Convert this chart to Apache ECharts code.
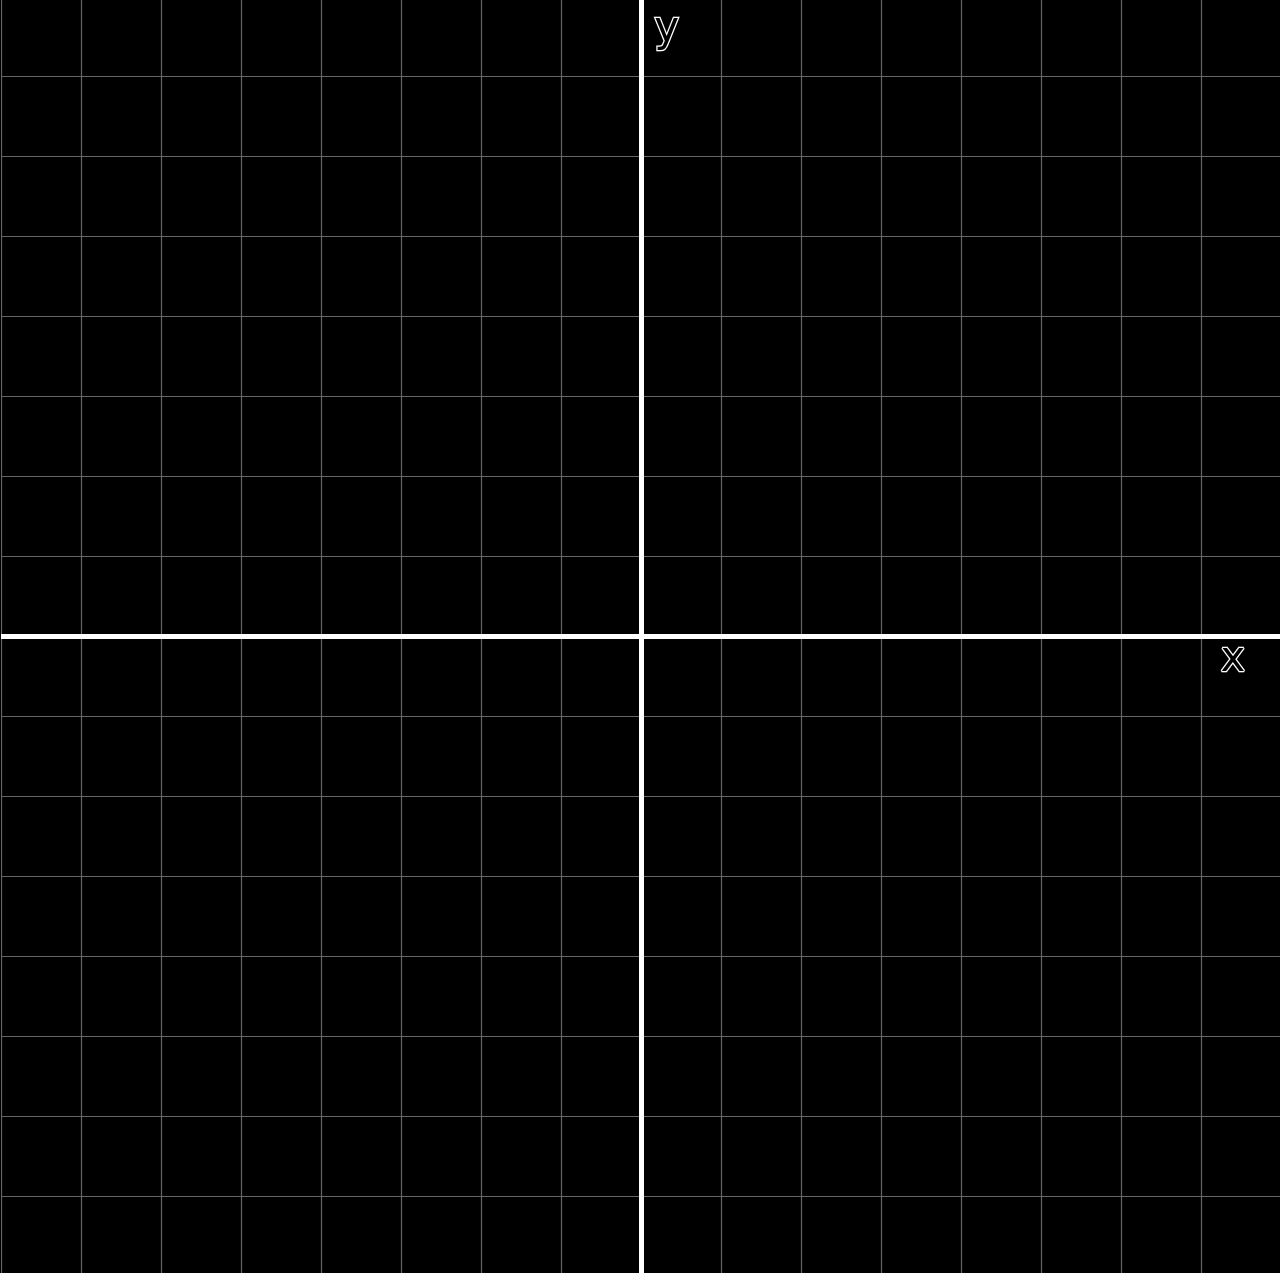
<!DOCTYPE html>
<html>
<head>
<meta charset="utf-8">
<style>
html,body{margin:0;padding:0;background:#000;overflow:hidden;width:1280px;height:1273px;}
#c{position:absolute;left:1px;top:-4px;width:1280px;height:1280px;}
</style>
<script src="https://cdn.jsdelivr.net/npm/echarts@6/dist/echarts.min.js"></script>
</head>
<body>
<div id="c"></div>
<script>
var xRange = [-8, 8];
var yRange = [-8, 8];
var gridStep = 1;
var axisNames = ['x', 'y'];

var chart = echarts.init(document.getElementById('c'), null, {renderer: 'canvas'});
var nameStyle = {
  fontFamily: 'DejaVu Sans',
  fontSize: 42,
  fill: '#000',
  stroke: '#fff',
  lineWidth: 2.5
};
chart.setOption({
  backgroundColor: '#000',
  animation: false,
  grid: {left: 0, right: 0, top: 0, bottom: 0, containLabel: false},
  xAxis: {
    type: 'value', min: xRange[0], max: xRange[1], interval: gridStep,
    axisLine: {show: true, onZero: true, lineStyle: {color: '#fff', width: 5}},
    axisTick: {show: false}, axisLabel: {show: false},
    splitLine: {show: true, lineStyle: {color: '#666', width: 1.2}}
  },
  yAxis: {
    type: 'value', min: yRange[0], max: yRange[1], interval: gridStep,
    axisLine: {show: true, onZero: true, lineStyle: {color: '#fff', width: 5}},
    axisTick: {show: false}, axisLabel: {show: false},
    splitLine: {show: true, lineStyle: {color: '#666', width: 1.2}}
  },
  series: [{type: 'line', data: []}]
});
var px = chart.convertToPixel({gridIndex: 0}, [7.4, -0.3]);
var py = chart.convertToPixel({gridIndex: 0}, [0.32, 7.58]);
chart.setOption({
  graphic: [
    {type: 'text', x: px[0], y: px[1], style: Object.assign({text: axisNames[0], align: 'center', verticalAlign: 'middle'}, nameStyle)},
    {type: 'text', x: py[0], y: py[1], style: Object.assign({text: axisNames[1], align: 'center', verticalAlign: 'middle'}, nameStyle)}
  ]
});
</script>
</body>
</html>
